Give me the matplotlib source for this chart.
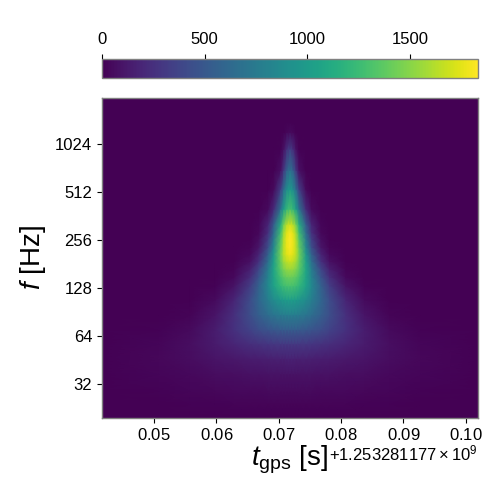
import numpy as np
import matplotlib
matplotlib.use("Agg")
import matplotlib.pyplot as plt
from matplotlib.ticker import ScalarFormatter, FixedLocator, FixedFormatter, NullLocator

plt.rcParams.update({
    "font.family": ["Liberation Sans", "DejaVu Sans"],
    "mathtext.fontset": "custom",
    "mathtext.rm": "Liberation Sans",
    "mathtext.it": "Liberation Sans:italic",
    "mathtext.bf": "Liberation Sans:bold",
    "mathtext.default": "regular",
})

# GPS reference and the centre of the burst (seconds)
gps_base = 1253281177.0
centre = 0.0718
# Right-hand half of the time grid, offsets from the centre (s)
offsets = [0.0, 0.0005, 0.001, 0.0015, 0.0026, 0.0035, 0.005, 0.0064, 0.009, 0.012, 0.016, 0.021, 0.0305]
# Frequency rows (Hz), low to high
freqs = [19.7, 24, 29, 37, 46, 57, 70, 87, 108, 132, 150, 168, 188, 208, 230, 258, 285, 320, 400, 530, 700, 950, 1210, 1400, 1990]
# Energy at each frequency row (rows) and offset (columns)
energy_half = [
    [0, 0, 0, 0, 0, 0, 0, 0, 0, 0, 0, 0, 0],
    [18, 18, 18, 18, 18, 18, 17, 17, 16, 14, 11, 6, 1],
    [45, 45, 45, 45, 44, 44, 42, 40, 36, 30, 23, 14, 3],
    [90, 90, 90, 89, 88, 87, 84, 79, 70, 58, 41, 23, 5],
    [165, 165, 164, 163, 161, 157, 150, 140, 120, 93, 59, 29, 4],
    [300, 299, 298, 296, 289, 279, 260, 236, 188, 130, 68, 23, 2],
    [530, 528, 526, 519, 499, 473, 422, 363, 253, 140, 50, 9, 0],
    [780, 778, 770, 755, 711, 654, 549, 434, 248, 100, 20, 2, 0],
    [1020, 1015, 1000, 970, 884, 779, 598, 420, 179, 45, 4, 0, 0],
    [1300, 1290, 1260, 1203, 1041, 854, 564, 324, 86, 10, 0, 0, 0],
    [1420, 1406, 1363, 1282, 1062, 821, 477, 231, 40, 0, 0, 0, 0],
    [1550, 1530, 1471, 1359, 1066, 764, 381, 151, 16, 0, 0, 0, 0],
    [1680, 1651, 1566, 1408, 1020, 654, 257, 74, 4, 0, 0, 0, 0],
    [1780, 1743, 1634, 1436, 968, 562, 182, 39, 1, 0, 0, 0, 0],
    [1820, 1772, 1636, 1394, 854, 435, 106, 16, 0, 0, 0, 0, 0],
    [1830, 1773, 1615, 1338, 753, 341, 65, 7, 0, 0, 0, 0, 0],
    [1810, 1743, 1560, 1247, 628, 244, 34, 3, 0, 0, 0, 0, 0],
    [1700, 1632, 1443, 1129, 532, 189, 22, 1, 0, 0, 0, 0, 0],
    [1300, 1220, 1013, 696, 221, 45, 2, 0, 0, 0, 0, 0, 0],
    [1000, 899, 653, 344, 48, 3, 0, 0, 0, 0, 0, 0, 0],
    [700, 560, 287, 76, 1, 0, 0, 0, 0, 0, 0, 0, 0],
    [350, 243, 80, 9, 0, 0, 0, 0, 0, 0, 0, 0, 0],
    [50, 30, 6, 0, 0, 0, 0, 0, 0, 0, 0, 0, 0],
    [0, 0, 0, 0, 0, 0, 0, 0, 0, 0, 0, 0, 0],
    [0, 0, 0, 0, 0, 0, 0, 0, 0, 0, 0, 0, 0],
]
y_ticks = [32, 64, 128, 256, 512, 1024]
x_ticks = [0.05, 0.06, 0.07, 0.08, 0.09, 0.10]
cbar_ticks = [0, 500, 1000, 1500]
vmax = 1830

half = np.array(energy_half, dtype=float)
grid = np.hstack([half[:, :0:-1], half])
off = np.array(offsets)
times = gps_base + centre + np.concatenate([-off[:0:-1], off])

edge = "#808080"
fig = plt.figure(figsize=(5, 5), dpi=100)
ax = fig.add_axes([102 / 500, 1 - 417.5 / 500, 375.5 / 500, 319.5 / 500])
cax = fig.add_axes([102 / 500, 1 - 78 / 500, 375.5 / 500, 19.5 / 500])

mesh = ax.pcolormesh(times, freqs, grid, shading="gouraud", cmap="viridis",
                     vmin=0, vmax=vmax, rasterized=True)
ax.set_yscale("log", base=2)
ax.set_ylim(19.7, 1990)
ax.set_xlim(gps_base + 0.04165, gps_base + 0.1019)
ax.yaxis.set_major_locator(FixedLocator(y_ticks))
ax.yaxis.set_major_formatter(FixedFormatter([str(v) for v in y_ticks]))
ax.yaxis.set_minor_locator(NullLocator())
ax.xaxis.set_major_locator(FixedLocator([gps_base + v for v in x_ticks]))
fmt = ScalarFormatter(useOffset=gps_base, useMathText=True)
ax.xaxis.set_major_formatter(fmt)
ax.tick_params(labelsize=12, length=3.5, width=0.8, color="black", pad=3.5)
ax.xaxis.get_offset_text().set_fontsize(12)
ax.xaxis.OFFSETTEXTPAD = 0
ax.set_xlabel(r"$\mathit{t}_{\mathrm{gps}}$ [s]", fontsize=20, labelpad=0)
ax.set_ylabel(r"$\mathit{f}$ [Hz]", fontsize=20, labelpad=5)

cb = fig.colorbar(mesh, cax=cax, orientation="horizontal", ticklocation="top")
cb.set_ticks(cbar_ticks)
cb.ax.tick_params(labelsize=12, length=3.5, width=0.8, pad=4.5)
cb.outline.set_edgecolor(edge)
cb.outline.set_linewidth(1.0)
for s in ax.spines.values():
    s.set_edgecolor(edge)
    s.set_linewidth(1.0)

fig.savefig("out.png", dpi=100)
